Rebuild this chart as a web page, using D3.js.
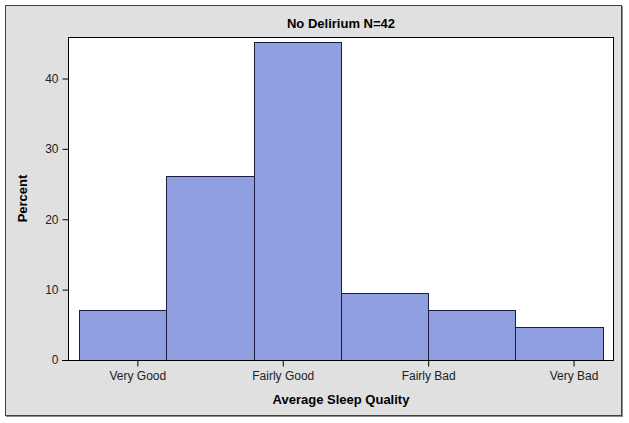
<!DOCTYPE html>
<html>
  <head>
    <meta charset="utf-8">
    <script src="https://d3js.org/d3.v7.min.js"></script>
    <style>
      body { margin: 0; background: #ffffff; }
      text { font-family: "Liberation Sans", Arial, sans-serif; }
    </style>
  </head>
  <body>
    <script>
      // bin centres (1 = Very Good ... 4 = Very Bad), bin width 0.6
      const binStarts = [0.6, 1.2, 1.8, 2.4, 3.0, 3.6]
      const binWidth = 0.6
      const percents = [7.14, 26.19, 45.24, 9.52, 7.14, 4.76]
      const xTickValues = [1, 2, 3, 4]
      const xTickLabels = ["Very Good", "Fairly Good", "Fairly Bad", "Very Bad"]
      const yTickValues = [0, 10, 20, 30, 40]

      const W = 629, H = 423
      const plotLeft = 68, plotRight = 614, plotTop = 37, plotBottom = 360

      const svg = d3.select("body").append("svg")
        .attr("width", W)
        .attr("height", H)

      // outer panel
      svg.append("rect")
        .attr("x", 5.5).attr("y", 5.5)
        .attr("width", 616).attr("height", 410)
        .attr("fill", "#e0e0e0")
        .attr("stroke", "#404040")
        .attr("stroke-width", 1)
      svg.append("line")
        .attr("x1", 622.5).attr("x2", 622.5).attr("y1", 6).attr("y2", 417)
        .attr("stroke", "#8a8a8a").attr("stroke-width", 1)
      svg.append("line")
        .attr("x1", 6).attr("x2", 623).attr("y1", 416.5).attr("y2", 416.5)
        .attr("stroke", "#8a8a8a").attr("stroke-width", 1)

      const x = d3.scaleLinear().domain([0.523, 4.278]).range([plotLeft, plotRight])
      const y = d3.scaleLinear().domain([0, 45.9]).range([plotBottom, plotTop])

      // plot area
      svg.append("rect")
        .attr("x", plotLeft + 0.5).attr("y", plotTop + 0.5)
        .attr("width", plotRight - plotLeft - 1).attr("height", plotBottom - plotTop)
        .attr("fill", "#ffffff")
        .attr("stroke", "#000000")

      svg.selectAll(".bar")
        .data(percents)
        .enter()
        .append("rect")
          .attr("class", "bar")
          .attr("x", (d, i) => Math.round(x(binStarts[i])) + 0.5)
          .attr("y", d => Math.round(y(d)) + 0.5)
          .attr("width", (d, i) => Math.round(x(binStarts[i] + binWidth)) - Math.round(x(binStarts[i])))
          .attr("height", d => Math.round(y(0)) - Math.round(y(d)))
          .attr("fill", "#8f9fdf")
          .attr("stroke", "#1c1c3c")
          .attr("stroke-width", 1)

      const xAxis = d3.axisBottom(x)
        .tickValues(xTickValues)
        .tickFormat((d, i) => xTickLabels[i])
        .tickSize(6)
        .tickPadding(5)
        .tickSizeOuter(0)
      const gx = svg.append("g")
        .attr("transform", "translate(0," + (plotBottom + 0.5) + ")")
        .call(xAxis)
      gx.select(".domain").attr("d", "M" + (plotLeft - 6) + ",0H" + plotRight).attr("stroke", "#000")
      gx.selectAll("text").attr("font-size", 12).attr("fill", "#222").attr("font-family", "Liberation Sans, Arial, sans-serif")

      const yAxis = d3.axisLeft(y)
        .tickValues(yTickValues)
        .tickSize(6)
        .tickPadding(4)
        .tickSizeOuter(0)
      const gy = svg.append("g")
        .attr("transform", "translate(" + (plotLeft + 0.5) + ",0)")
        .call(yAxis)
      gy.select(".domain").remove()
      gy.selectAll("text").attr("font-size", 12).attr("fill", "#222").attr("font-family", "Liberation Sans, Arial, sans-serif")

      svg.append("text")
        .attr("x", (plotLeft + plotRight) / 2).attr("y", 28)
        .attr("text-anchor", "middle")
        .attr("font-size", 13).attr("font-weight", "bold")
        .text("No Delirium N=42")

      svg.append("text")
        .attr("x", (plotLeft + plotRight) / 2).attr("y", 404)
        .attr("text-anchor", "middle")
        .attr("font-size", 13).attr("font-weight", "bold")
        .text("Average Sleep Quality")

      svg.append("text")
        .attr("transform", "translate(27," + (plotTop + plotBottom) / 2 + ") rotate(-90)")
        .attr("text-anchor", "middle")
        .attr("font-size", 13).attr("font-weight", "bold")
        .text("Percent")
    </script>
  </body>
</html>
